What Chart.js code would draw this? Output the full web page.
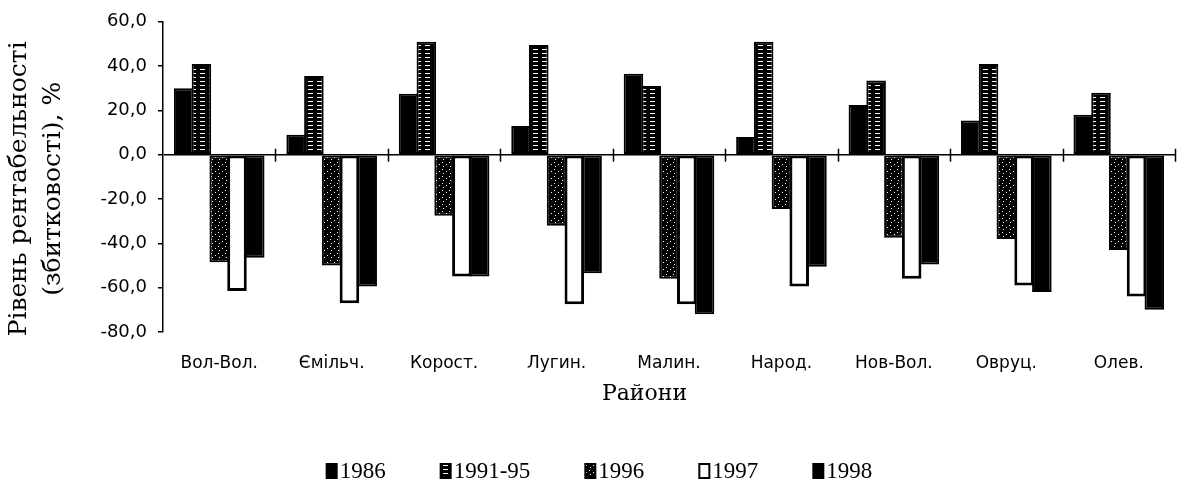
<!DOCTYPE html>
<html>
<head>
<meta charset="utf-8">
<script src="https://cdn.jsdelivr.net/npm/chart.js@4.4.1/dist/chart.umd.min.js"></script>
<style>
  html, body { margin: 0; padding: 0; background: #fff; }
</style>
</head>
<body>
<canvas id="myChart" width="1181" height="481"></canvas>
<script>

// districts and yearly profitability levels (%)
const districts = ["Вол-Вол.", "Ємільч.", "Корост.", "Лугин.", "Малин.", "Народ.", "Нов-Вол.", "Овруц.", "Олев."];
const seriesNames = ["1986", "1991-95", "1996", "1997", "1998"];
const y1986 = [30, 9, 27.5, 13, 36.5, 8, 22.5, 15.5, 18];
const y9195 = [41, 35.5, 51, 49.5, 31, 51, 33.5, 41, 28];
const y1996 = [-48.5, -50, -27.5, -32, -56, -24.5, -37.5, -38, -43];
const y1997 = [-61.5, -67, -55, -67.5, -67.5, -59.5, -56, -59, -64];
const y1998 = [-46.5, -59.5, -55, -53.5, -72, -50.5, -49.5, -62, -70];
const yTicks = [60, 40, 20, 0, -20, -40, -60, -80];

// little fill patterns like the scanned print
function makePattern(w, h, dots) {
  const c = document.createElement("canvas");
  c.width = w; c.height = h;
  const g = c.getContext("2d");
  g.fillStyle = "#000";
  g.fillRect(0, 0, w, h);
  g.fillStyle = "#fff";
  dots.forEach(d => g.fillRect(d[0], d[1], d[2], d[3]));
  return g.createPattern(c, "repeat");
}
const stripes = makePattern(9, 4, [[2, 1, 5, 1]]);
const speckle = makePattern(7, 7, [[1, 1, 1, 1], [5, 3, 1, 1], [2, 5, 1, 1]]);

// zero line ticks between the districts
const zeroTicks = {
  id: "zeroTicks",
  afterDatasetsDraw(chart) {
    const ctx = chart.ctx;
    const x = chart.scales.x, y = chart.scales.y;
    const y0 = y.getPixelForValue(0);
    const step = (x.right - x.left) / districts.length;
    ctx.save();
    ctx.strokeStyle = "#000";
    ctx.lineWidth = 1.5;
    ctx.beginPath();
    for (let i = 1; i <= districts.length; i++) {
      const px = Math.round(x.left + i * step) + 0.5;
      ctx.moveTo(px, y0 - 6);
      ctx.lineTo(px, y0 + 7);
    }
    ctx.stroke();
    ctx.restore();
  }
};

// legend row at the bottom
const bottomLegend = {
  id: "bottomLegend",
  afterDraw(chart) {
    const ctx = chart.ctx;
    ctx.save();
    ctx.font = '23px "Liberation Serif"';
    ctx.textBaseline = "middle";
    const boxW = 10, boxH = 14, gap = 3, pad = 55;
    const items = chart.data.datasets.map(ds => ({ ds: ds, w: ctx.measureText(ds.label).width }));
    const total = items.reduce((s, it) => s + boxW + gap + it.w, 0) + pad * (items.length - 1);
    let x = chart.width / 2 + 9 - total / 2;
    const y = 471;
    items.forEach(it => {
      ctx.fillStyle = it.ds.backgroundColor;
      ctx.fillRect(x, y - boxH / 2, boxW, boxH);
      ctx.strokeStyle = "#000";
      ctx.lineWidth = 2;
      ctx.strokeRect(x, y - boxH / 2, boxW, boxH);
      ctx.fillStyle = "#000";
      ctx.fillText(it.ds.label, x + boxW + gap, y + 1);
      x += boxW + gap + it.w + pad;
    });
    ctx.restore();
  }
};

Chart.defaults.color = "#000";

function bar(label, data, fill, bw) {
  return {
    label: label,
    data: data,
    backgroundColor: fill,
    borderColor: "#000",
    borderWidth: bw,
    borderSkipped: false,
    categoryPercentage: 0.79,
    barPercentage: 1.1
  };
}

const chart = new Chart("myChart", {
  type: "bar",
  data: {
    labels: districts,
    datasets: [
      bar(seriesNames[0], y1986, "#000", 2),
      bar(seriesNames[1], y9195, stripes, 2),
      bar(seriesNames[2], y1996, speckle, 2),
      bar(seriesNames[3], y1997, "#fff", 3),
      bar(seriesNames[4], y1998, "#000", 2)
    ]
  },
  options: {
    responsive: false,
    animation: false,
    layout: { padding: { top: 20, right: 6, bottom: 71, left: 0 } },
    plugins: {
      legend: { display: false },
      tooltip: { enabled: false }
    },
    scales: {
      x: {
        grid: { display: false },
        border: { display: false },
        ticks: {
          font: { family: "DejaVu Sans", size: 17 },
          padding: 13,
          maxRotation: 0,
          autoSkip: false
        },
        title: {
          display: true,
          text: "Райони       ",
          font: { family: "DejaVu Serif", size: 22 },
          padding: { top: 0, bottom: 3 }
        },
        afterFit: s => { s.height = 78; }
      },
      y: {
        min: Math.min(...yTicks),
        max: Math.max(...yTicks),
        ticks: {
          stepSize: yTicks[0] - yTicks[1],
          font: { family: "DejaVu Sans", size: 18 },
          padding: 11,
          callback: v => v.toFixed(1).replace(".", ",")
        },
        grid: {
          color: c => (c.tick && c.tick.value === 0 ? "#000" : "rgba(0,0,0,0)"),
          tickColor: "#000",
          tickLength: 5,
          lineWidth: 1.5
        },
        border: { display: true, color: "#000", width: 1.5 },
        title: {
          display: true,
          text: ["Рівень рентабельності   ", "(збитковості), %   "],
          font: { family: "DejaVu Serif", size: 25, lineHeight: 1.36 },
          padding: { top: 2, bottom: 0 }
        },
        afterFit: s => { s.width = 163; }
      }
    }
  },
  plugins: [zeroTicks, bottomLegend]
});

</script>
</body>
</html>
